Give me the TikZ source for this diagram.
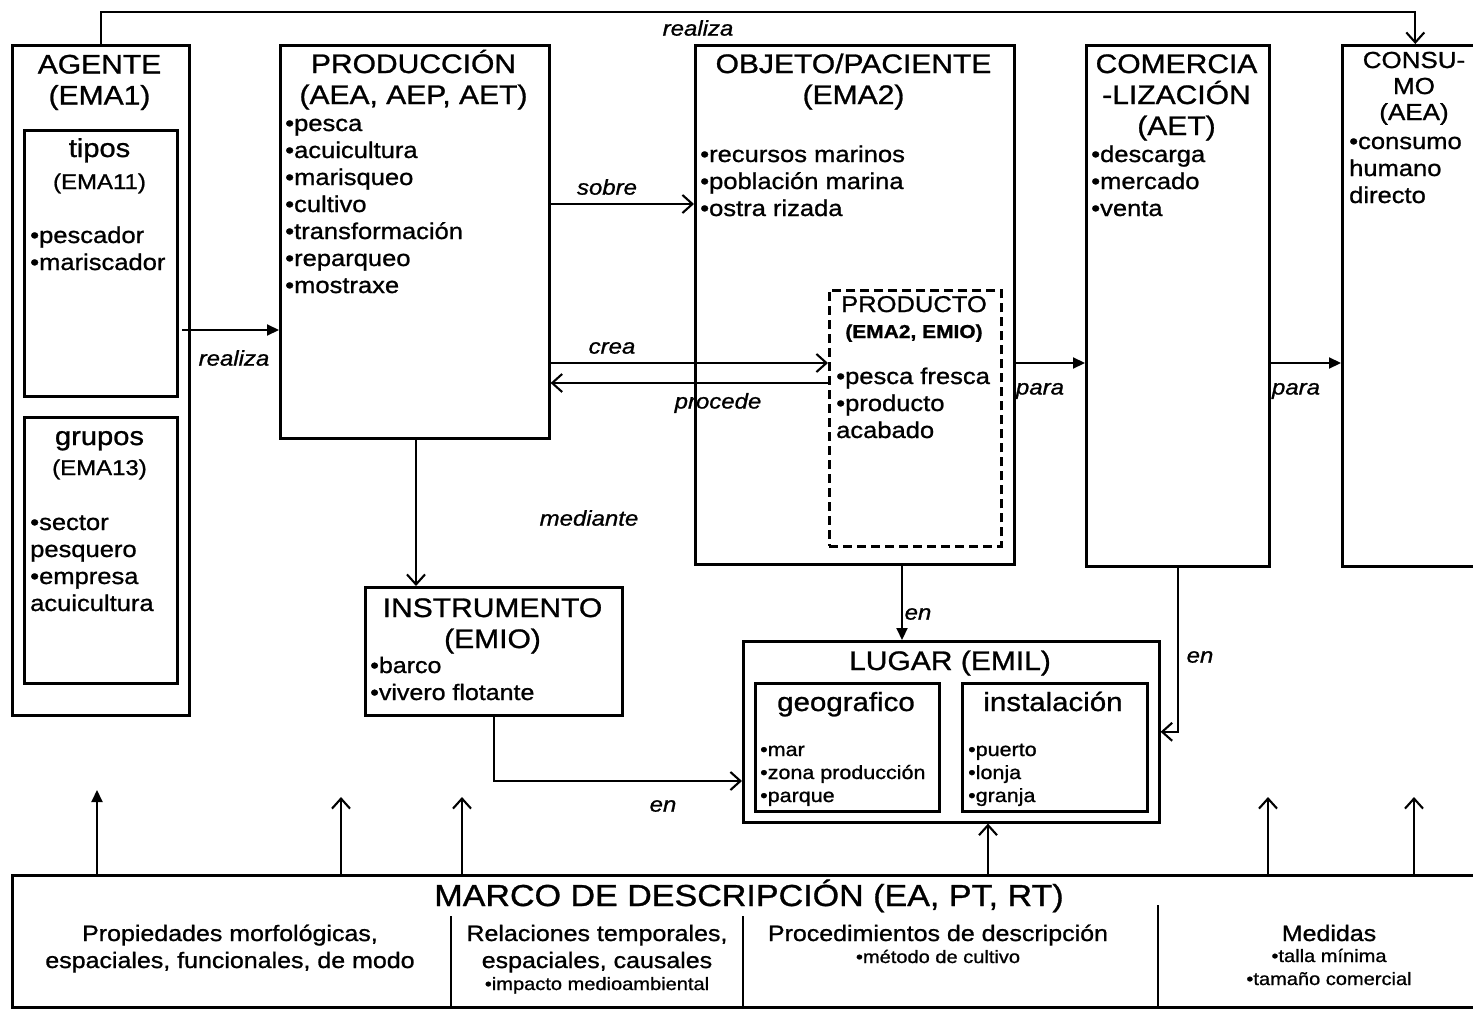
\documentclass[tikz,border=0pt]{standalone}
\usepackage{fontspec}
\setmainfont{Liberation Sans}[FakeStretch=1.12,FakeBold=1]
\usetikzlibrary{arrows.meta}
\newcommand\fz[2]{\fontsize{#1}{#2}\selectfont}
\begin{document}
\begin{tikzpicture}[x=1pt,y=-1pt,
  box/.style={draw, line width=2.6pt, inner sep=0pt, anchor=north west},
  dbox/.style={box, dash pattern=on 9pt off 5pt},
  conn/.style={line width=2.1pt},
  oa/.style={-{Straight Barb[length=10pt,width=18pt]}},
  fa/.style={-{Triangle[length=12pt,width=11pt]}},
  ctr/.style={inner sep=0pt, align=center, anchor=base},
  txt/.style={inner sep=0pt, align=left, anchor=base west},
  hd/.style={font=\fz{26.8}{31}},
  li/.style={font=\fz{22.8}{27}},
  lbl/.style={inner sep=0pt, font=\fz{21.4}{24}\itshape}]
\useasboundingbox (0,0) rectangle (1473,1009);
\clip (0,0) rectangle (1473,1009);

% ---- boxes
\node[box, minimum width=177pt, minimum height=670pt] (agente) at (11,44) {};
\node[box, minimum width=153pt, minimum height=266pt] (tipos) at (23,129) {};
\node[box, minimum width=153pt, minimum height=266pt] (grupos) at (23,416) {};
\node[box, minimum width=269pt, minimum height=393pt] (prod) at (279,44) {};
\node[box, minimum width=319pt, minimum height=519pt] (obj) at (694,44) {};
\node[dbox, minimum width=172pt, minimum height=256pt] (producto) at (828,289) {};
\node[box, minimum width=183pt, minimum height=521pt] (comerc) at (1085,44) {};
\node[box, minimum width=146pt, minimum height=521pt] (consumo) at (1341,44) {};
\node[box, minimum width=257pt, minimum height=128pt] (instr) at (364,586) {};
\node[box, minimum width=416pt, minimum height=181pt] (lugar) at (742,640) {};
\node[box, minimum width=184pt, minimum height=128pt] (geo) at (754,682) {};
\node[box, minimum width=185pt, minimum height=128pt] (inst) at (961,682) {};
\node[box, minimum width=1475pt, minimum height=132pt] (marco) at (11,874) {};

% ---- texts (multi-line nodes: base = baseline of last line)
\node[ctr, hd] (tAg) at (99.5,104.5) {AGENTE\\(EMA1)};
\node[ctr, font=\fz{26}{30}] (tTi) at (99.5,157) {tipos};
\node[ctr, font=\fz{21.4}{24}] (tTi2) at (99.5,189) {(EMA11)};
\node[txt, li] (lTi) at (30,270) {•pescador\\•mariscador};
\node[ctr, font=\fz{26}{30}] (tGr) at (99.5,445) {grupos};
\node[ctr, font=\fz{21.4}{24}] (tGr2) at (99.5,475) {(EMA13)};
\node[txt, li] (lGr) at (30,611) {•sector\\pesquero\\•empresa\\acuicultura};

\node[ctr, hd] (tPr) at (413.5,104) {PRODUCCIÓN\\(AEA, AEP, AET)};
\node[txt, li] (lPr) at (285,293) {•pesca\\•acuicultura\\•marisqueo\\•cultivo\\•transformación\\•reparqueo\\•mostraxe};

\node[ctr, hd] (tOb) at (853.5,104) {OBJETO/PACIENTE\\(EMA2)};
\node[txt, li] (lOb) at (700,216) {•recursos marinos\\•población marina\\•ostra rizada};

\node[ctr, font=\fz{22.8}{27}] (tPd) at (914,312) {PRODUCTO};
\node[ctr, font=\fz{18.7}{22}\bfseries] (tPd2) at (914,338) {(EMA2, EMIO)};
\node[txt, li] (lPd) at (836,438) {•pesca fresca\\•producto\\acabado};

\node[ctr, hd] (tCo) at (1176.5,135) {COMERCIA\\-LIZACIÓN\\(AET)};
\node[txt, li] (lCo) at (1091,216) {•descarga\\•mercado\\•venta};

\node[ctr, font=\fz{23.2}{26}] (tCs) at (1414,120) {CONSU-\\MO\\(AEA)};
\node[txt, li] (lCs) at (1349,203) {•consumo\\humano\\directo};

\node[ctr, hd] (tIn) at (492.5,648) {INSTRUMENTO\\(EMIO)};
\node[txt, font=\fz{22.3}{27}] (lIn) at (370,700) {•barco\\•vivero flotante};

\node[ctr, hd] (tLu) at (950,670) {LUGAR (EMIL)};
\node[ctr, font=\fz{26.3}{30}] (tGe) at (846,711) {geografico};
\node[ctr, font=\fz{26.3}{30}] (tIs) at (1053,711) {instalación};
\node[txt, font=\fz{19.2}{23}] (lGe) at (760,802) {•mar\\•zona producción\\•parque};
\node[txt, font=\fz{19.2}{23}] (lIs) at (968,802) {•puerto\\•lonja\\•granja};

\node[ctr, font=\fz{30.4}{34}] (tMa) at (749,906) {MARCO DE DESCRIPCIÓN (EA, PT, RT)};
\node[ctr, font=\fz{22.3}{27}] (m1) at (230,968) {Propiedades morfológicas,\\espaciales, funcionales, de modo};
\node[ctr, font=\fz{22.3}{27}] (m2) at (597,968) {Relaciones temporales,\\espaciales, causales};
\node[ctr, font=\fz{17.9}{23}] (m2b) at (597,990) {•impacto medioambiental};
\node[ctr, font=\fz{22.3}{27}] (m3) at (938,941) {Procedimientos de descripción};
\node[ctr, font=\fz{17.9}{23}] (m3b) at (938,963) {•método de cultivo};
\node[ctr, font=\fz{22.3}{27}] (m4) at (1329,941) {Medidas};
\node[ctr, font=\fz{17.9}{23}] (m4b) at (1329,985) {•talla mínima\\•tamaño comercial};

% marco dividers
\draw[line width=1.8pt] (451,916) -- (451,916 |- marco.south);
\draw[line width=1.8pt] (743,916) -- (743,916 |- marco.south);
\draw[line width=1.8pt] (1158,905) -- (1158,905 |- marco.south);

% ---- connectors
\draw[conn, oa] (agente.north) -- ++(0,-32) -| (consumo.north);
\node[lbl] (lbReal1) at (698,28) {realiza};

\coordinate (rs) at (182,330);
\draw[conn, fa] (rs) -- (prod.west |- rs);
\node[lbl] (lbReal2) at (234,358) {realiza};

\draw[conn, oa] (prod.east |- 0,204) -- (obj.west |- 0,204);
\node[lbl] (lbSob) at (607,187) {sobre};

\draw[conn, oa] (prod.east |- 0,363) -- (producto.west |- 0,363);
\node[lbl] (lbCre) at (612,348) {crea};
\draw[conn, oa] (producto.west |- 0,383) -- (prod.east |- 0,383);
\node[lbl] (lbPro) at (718,403) {procede};

\draw[conn, fa] (obj.east |- 0,363) -- (comerc.west |- 0,363);
\node[lbl] (lbPa1) at (1040,391) {para};
\draw[conn, fa] (comerc.east |- 0,363) -- (consumo.west |- 0,363);
\node[lbl] (lbPa2) at (1296,391) {para};

\draw[conn, oa] (prod.south -| 416,0) -- (instr.north -| 416,0);
\node[lbl] (lbMed) at (589,518) {mediante};

\draw[conn, fa] (obj.south -| 902,0) -- (lugar.north -| 902,0);
\node[lbl] (lbEn1) at (918,614) {en};

\draw[conn, oa] (comerc.south) |- (lugar.east);
\node[lbl] (lbEn2) at (1200,657) {en};

\draw[conn, oa] (instr.south) |- (lugar.west |- 0,781);
\node[lbl] (lbEn3) at (663,806) {en};

% upward arrows from marco
\coordinate (u1) at (97,790);
\coordinate (u2) at (341,797);
\coordinate (u3) at (462,797);
\coordinate (u5) at (1268,797);
\coordinate (u6) at (1414,797);
\draw[conn, fa] (marco.north -| u1) -- (u1);
\draw[conn, oa] (marco.north -| u2) -- (u2);
\draw[conn, oa] (marco.north -| u3) -- (u3);
\draw[conn, oa] (marco.north -| 988,0) -- (lugar.south -| 988,0);
\draw[conn, oa] (marco.north -| u5) -- (u5);
\draw[conn, oa] (marco.north -| u6) -- (u6);
\end{tikzpicture}
\end{document}
